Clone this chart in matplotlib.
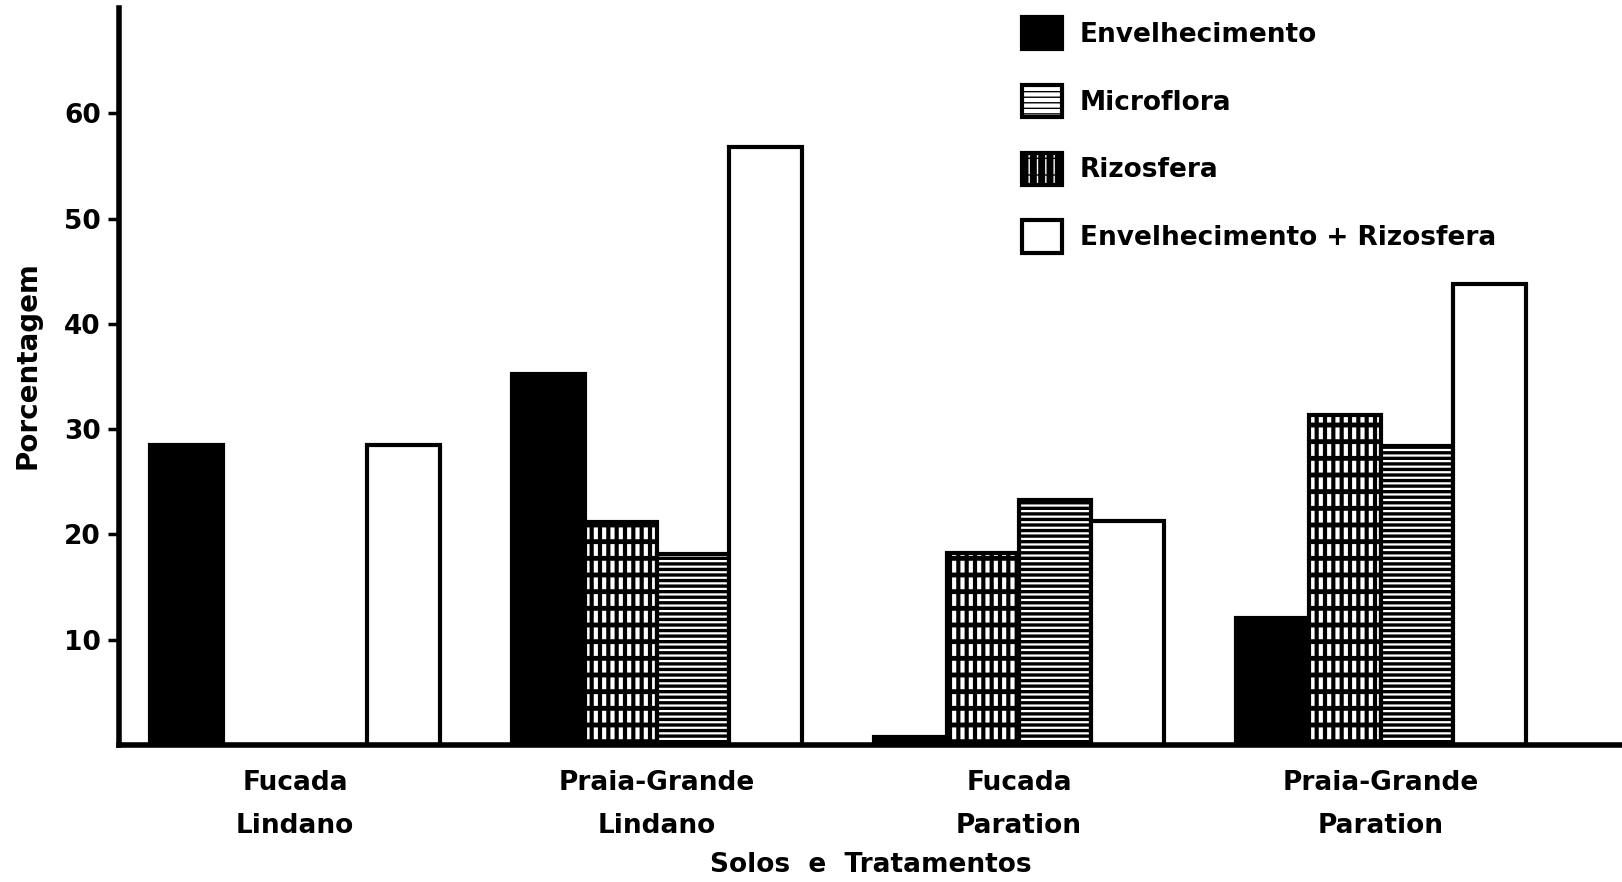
"""
Percentagem por solo e tratamento - grafico de barras com hachuras
"""

import matplotlib
matplotlib.use('Agg')
import matplotlib.pyplot as plt
import numpy as np

# Dados
groups = ['Fucada\nLindano', 'Praia-Grande\nLindano', 'Fucada\nParation', 'Praia-Grande\nParation']
envelhecimento = [28.5, 35.2, 0.8, 12.1]
rizosfera = [0.0, 21.2, 18.2, 31.3]
microflora = [0.0, 18.1, 23.3, 28.4]
envelhecimento_rizosfera = [28.5, 56.8, 21.3, 43.8]
yticks = [10, 20, 30, 40, 50, 60]

FS = 18

plt.rcParams['font.family'] = 'DejaVu Sans'
plt.rcParams['font.weight'] = 'bold'

fig = plt.figure(figsize=(16.22, 8.82), dpi=100)
ax = fig.add_axes([0.0734, 0.1553, 1 - 0.0734, 0.991 - 0.1553])

x = np.arange(len(groups)) * 5.0
w = 1.0
lw = 3

# Envelhecimento (preto)
b1 = ax.bar(x - 1.5 * w, envelhecimento, w, color='black', edgecolor='black',
            linewidth=lw)

# Rizosfera: fundo preto com fendas brancas verticais interrompidas
with plt.rc_context({'hatch.color': 'white'}):
    b3 = ax.bar(x - 0.5 * w, rizosfera, w, facecolor='black', hatch='||',
                linewidth=0)
for p in b3:
    p.set_hatch_linewidth(3.0)
b3o = ax.bar(x - 0.5 * w, rizosfera, w, facecolor='none', edgecolor='black',
             hatch='-', linewidth=lw)
for p in b3o:
    p.set_hatch_linewidth(3.5)

# Microflora (linhas horizontais)
b2 = ax.bar(x + 0.5 * w, microflora, w, facecolor='white', edgecolor='black',
            hatch='---', linewidth=lw)
for p in b2:
    p.set_hatch_linewidth(2.4)

# Envelhecimento + Rizosfera (branco)
b4 = ax.bar(x + 1.5 * w, envelhecimento_rizosfera, w, facecolor='white',
            edgecolor='black', linewidth=lw)

ax.set_xlim(-2.43, 18.33)
ax.set_ylim(0, 70)

for s in ['top', 'right']:
    ax.spines[s].set_visible(False)
for s in ['left', 'bottom']:
    ax.spines[s].set_linewidth(4)

ax.set_yticks(yticks)
ax.set_yticklabels([str(v) for v in yticks], fontsize=FS + 1, fontweight='bold')
ax.tick_params(axis='y', length=8, width=2.5, pad=5)

ax.set_xticks(x)
ax.set_xticklabels(groups, fontsize=FS + 1, fontweight='bold', linespacing=1.85)
ax.tick_params(axis='x', length=0, pad=18)

ax.set_ylabel('Porcentagem', fontsize=FS + 2, fontweight='bold')
ax.yaxis.set_label_coords(-0.0515, 0.515)
ax.set_xlabel('Solos  e  Tratamentos', fontsize=FS + 1, fontweight='bold', labelpad=9)

ax.legend(handles=[b1[0], b2[0], (b3[0], b3o[0]), b4[0]],
          labels=['Envelhecimento', 'Microflora', 'Rizosfera',
                  'Envelhecimento + Rizosfera'],
          loc='upper left', bbox_to_anchor=(1022 / 1622, 1 - 17 / 882),
          bbox_transform=fig.transFigure, frameon=False, fontsize=FS + 1,
          handlelength=1.5, handleheight=1.5, labelspacing=1.35,
          handletextpad=0.7, borderpad=0, borderaxespad=0)

fig.savefig('out.png', dpi=100)
